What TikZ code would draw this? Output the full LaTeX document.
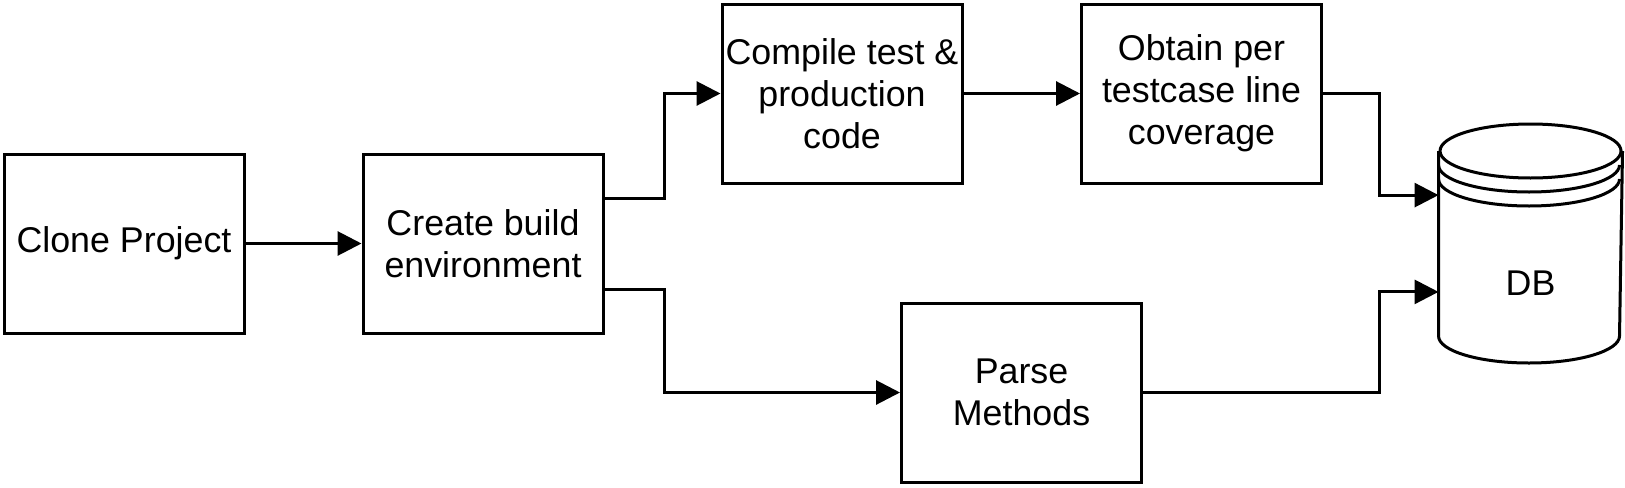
\documentclass[tikz,border=0pt]{standalone}
\usepackage{fontspec}
\setmainfont{Liberation Sans}
\usetikzlibrary{arrows.meta}
\usetikzlibrary{calc}
\tikzset{basic/.style={draw,line width=1.5pt,
                       minimum width=120pt,minimum height=89.5pt,
                       inner sep=1pt,align=center,
                       font=\fontsize{17.9}{21}\selectfont}}
\tikzset{label/.style={inner sep=0pt,font=\fontsize{17.9}{21}\selectfont}}

\begin{document}
\begin{tikzpicture}[x=0.5pt,y=-0.5pt,>={Triangle[length=12pt,width=12pt]},line width=1.5pt]
	\tikzstyle{store}=[minimum width=90.5pt,minimum height=119.5pt,inner sep=0pt]
  \useasboundingbox (0,0) rectangle (1625,487);

  % The process steps:
  \node (clone)   [basic] at (124,243.5)    {Clone Project};
  \node (build)   [basic] at (483,243.5)    {Create build\\environment};
  \node (compile) [basic] at (842,93.5)     {Compile test \&\\production\\code};
  \node (obtain)  [basic] at (1201.5,93.5)  {Obtain per\\testcase line\\coverage};
  \node (parse)   [basic] at (1021.5,392.5) {Parse\\Methods};

  % The database: an empty node with the cylinder drawn round it
  \node (db) [store] at (1530.5,243.5) {};
  \node (db_text) [label] at (1530.5,283) {DB};
  \draw (db.west |- 0,151) -- (db.west |- 0,336)
    arc[start angle=180,end angle=360,x radius=45.25pt,y radius=13.5pt]
    -- (db.east |- 0,151);
  \draw (1530.5,151) ellipse [x radius=45.25pt,y radius=13.5pt];
  \draw (db.west |- 0,165) arc[start angle=180,end angle=360,x radius=45.25pt,y radius=13.5pt];
  \draw (db.west |- 0,179) arc[start angle=180,end angle=360,x radius=45.25pt,y radius=13.5pt];

  % Ports on the sides of the boxes
  \coordinate (build_up)  at ($(build.north east)!.25!(build.south east)$);
  \coordinate (build_low) at ($(build.north east)!.75!(build.south east)$);
  \coordinate (db_up)     at ($(db.north west)!.3!(db.south west)$);
  \coordinate (db_low)    at ($(db.north west)!.7!(db.south west)$);
  \coordinate (db_turn)   at ($(db.west)+(-29.5pt,0)$);

  % The diagram elements are now connected through arrows:
  \draw[->] (clone) -- (build);
  \draw[->] (build_up) -- ++(30pt,0) |- (compile.west);
  \draw[->] (build_low) -- ++(30pt,0) |- (parse.west);
  \draw[->] (compile) -- (obtain);
  \draw[->] (obtain.east) -- (obtain.east -| db_turn) |- (db_up);
  \draw[->] (parse.east) -- (parse.east -| db_turn) |- (db_low);
\end{tikzpicture}
\end{document}
